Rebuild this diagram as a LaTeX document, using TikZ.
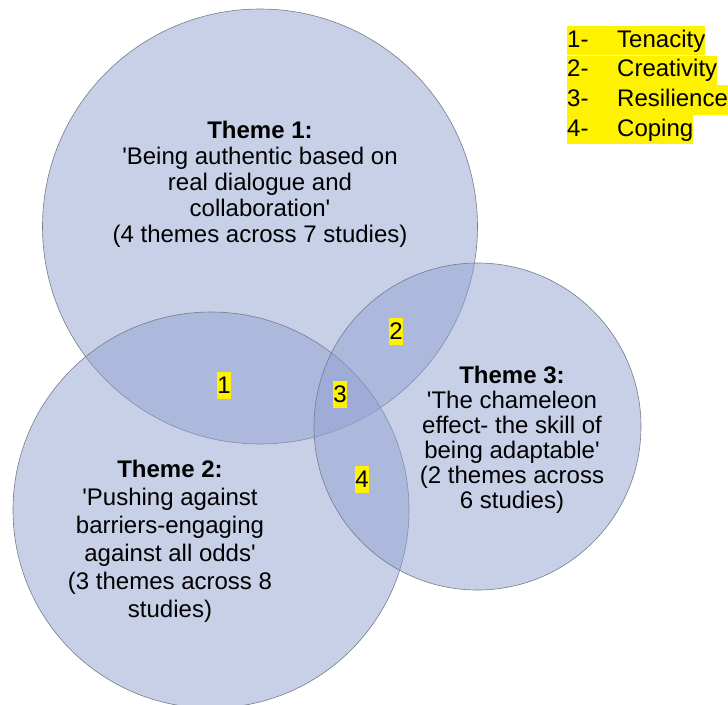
\documentclass[tikz,border=0pt]{standalone}
\usepackage{fontspec}
\setmainfont{Liberation Sans}[Ligatures=TeXOff]
\usetikzlibrary{positioning}

\definecolor{vennfill}{RGB}{145,161,209}
\definecolor{vennline}{RGB}{118,124,138}

\begin{document}
\begin{tikzpicture}[x=1pt, y=-1pt,
  venn/.style = {shape = circle, draw = vennline, line width = 0.6pt,
                 fill = vennfill, fill opacity = 0.5, inner sep = 0pt},
  theme/.style = {align = center, font = \fontsize{24}{26}\selectfont},
  num/.style = {fill = yellow, inner xsep = 0.5pt, inner ysep = 0pt, minimum height = 27pt,
                font = \fontsize{24}{26}\selectfont},
  key/.style = {fill = yellow, inner sep = 0pt, text height = 21pt, text depth = 8.2pt,
                font = \fontsize{24}{26}\selectfont}]
\useasboundingbox (0,0) rectangle (728,704);

% the three circles
\node[venn, minimum size = 435pt] (c1) at (260,226.5) {};
\node[venn, minimum size = 396pt] (c2) at (211,510) {};
\node[venn, minimum size = 327pt] (c3) at (477.5,426.5) {};

% theme texts
\node[theme] (t1) at (260,184) {\textbf{Theme 1:}\\'Being authentic based on\\real dialogue and\\collaboration'\\(4 themes across 7 studies)};
\node[theme, font = \fontsize{24}{28}\selectfont] (t2) at (170,541) {\textbf{Theme 2:}\\'Pushing against\\barriers-engaging\\against all odds'\\(3 themes across 8\\studies)};
\node[theme, font = \fontsize{24}{25}\selectfont] (t3) at (512,440) {\textbf{Theme 3:}\\'The chameleon\\effect- the skill of\\being adaptable'\\(2 themes across\\6 studies)};

% overlap numbers
\node[num] (n1) at (224,385) {1};
\node[num] (n2) at (396,331) {2};
\node[num] (n3) at (340,394) {3};
\node[num] (n4) at (362,479) {4};

% key
\node[key, anchor = north west] (k1) at (567,26) {\makebox[50pt][l]{1-}Tenacity};
\node[key, below right = 0pt and 0pt of k1.south west] (k2) {\makebox[50pt][l]{2-}Creativity};
\node[key, below right = 0pt and 0pt of k2.south west] (k3) {\makebox[50pt][l]{3-}Resilience};
\node[key, below right = 0pt and 0pt of k3.south west] (k4) {\makebox[50pt][l]{4-}Coping};
\end{tikzpicture}
\end{document}
